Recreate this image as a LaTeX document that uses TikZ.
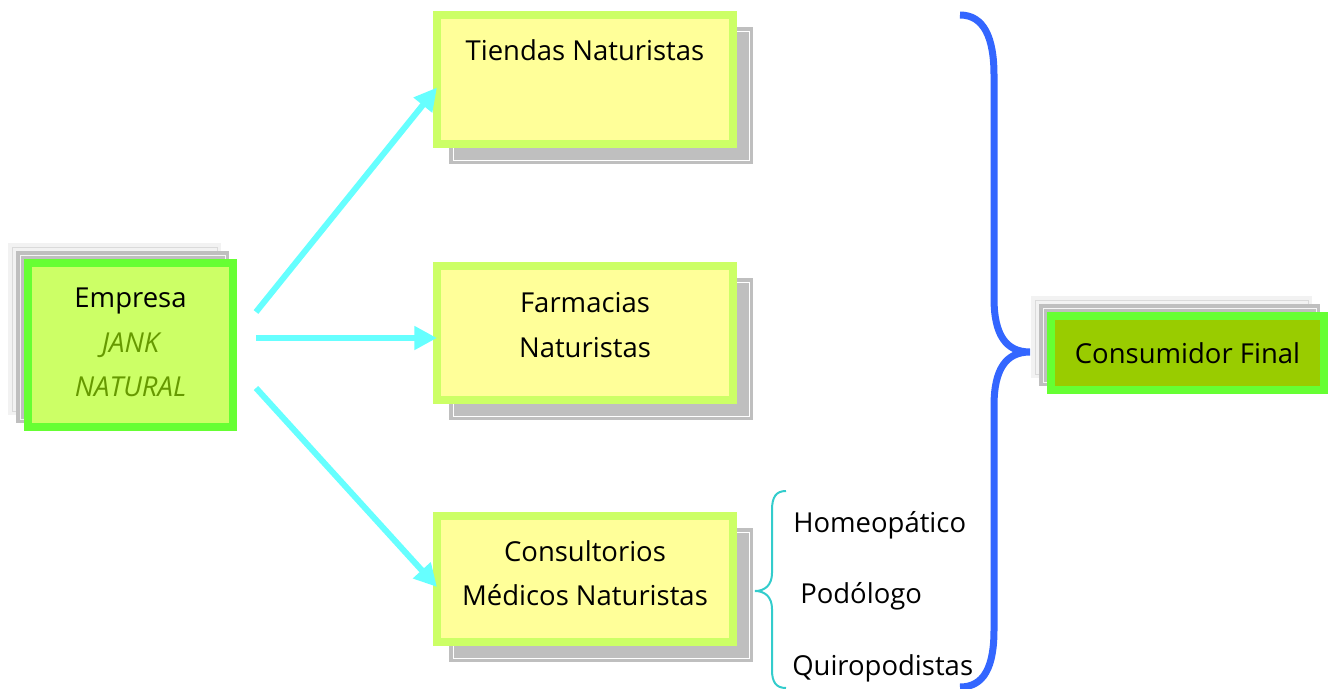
\documentclass[tikz,border=0pt]{standalone}
\usepackage{fontspec}
\setmainfont{Open Sans}
\usetikzlibrary{shadows,arrows.meta}
\definecolor{vertclair}{HTML}{CCFF66}
\definecolor{vertvif}{HTML}{66FF33}
\definecolor{vertfonce}{HTML}{99CC00}
\definecolor{olive}{HTML}{669900}
\definecolor{jaune}{HTML}{FFFF99}
\definecolor{ombre}{HTML}{BFBFBF}
\definecolor{ombreclaire}{HTML}{F2F2F2}
\definecolor{cyan}{HTML}{66FFFF}
\definecolor{bleu}{HTML}{3366FF}
\definecolor{turquoise}{HTML}{33CCCC}
\begin{document}
\begin{tikzpicture}[x=0.75pt,y=-0.75pt,font=\fontsize{20.6}{33.5}\selectfont,
  boite/.style={draw=vertclair, line width=6pt, fill=jaune, minimum width=222pt, align=center,
    general shadow={shadow xshift=12pt, shadow yshift=-12pt, fill=ombre, draw=ombre,
      line width=2.6pt, double=white, double distance=0.75pt}},
  cadre/.style={draw=vertvif, line width=6pt, align=center,
    general shadow={shadow xshift=-12pt, shadow yshift=12pt, fill=ombreclaire, draw=ombreclaire,
      line width=2.6pt, double=ombreclaire!90!black, double distance=0.75pt},
    general shadow={shadow xshift=-6pt, shadow yshift=6pt, fill=ombre, draw=ombre,
      line width=2.6pt, double=white!85!ombre, double distance=0.75pt}},
  fleche/.style={cyan, line width=4.5pt, -{Triangle[length=17pt,width=17pt]}},
  liste/.style={anchor=base west, inner sep=0pt}]
\useasboundingbox (0,0) rectangle (1329,689);
% boites
\node[cadre, fill=vertclair, minimum width=153.75pt, minimum height=123pt, text depth=4pt] (e)
  at (130.5,345) {Empresa\\\textcolor{olive}{\itshape JANK}\\\textcolor{olive}{\itshape NATURAL}};
\node[boite, minimum height=96.75pt,
  label={[anchor=base,yshift=-36.75pt]north:Tiendas Naturistas}] (t0) at (585,79.5) {};
\node[boite, minimum height=100.5pt, text depth=12pt] (t1) at (585,333) {Farmacias\\Naturistas};
\node[boite, minimum height=94.5pt, text depth=9pt] (t2) at (585,579) {Consultorios\\Médicos Naturistas};
\node[cadre, fill=vertfonce, minimum width=204.75pt, minimum height=55.5pt] (c) at (1187.5,353)
  {Consumidor Final};
% fleches
\foreach \i/\a/\b in {0/24.75/-6, 1/5.25/-3.75, 2/-32.25/-6}
  \draw[fleche] ([shift={(14.25pt,\a pt)}]e.east) -- ([shift={(3pt,\b pt)}]t\i.west);
% specialistes
\node[liste] (h) at (793,532) {Homeopático};
\node[liste] (p) at (800,603) {Podólogo};
\node[liste] (q) at (792,675) {Quiropodistas};
\draw[turquoise, line width=1.5pt] (786,491) .. controls (776,491) and (772,497) .. (772,510)
  -- (772,573) .. controls (772,585) and (765,591) .. (755,591)
  .. controls (765,591) and (772,597) .. (772,609) -- (772,670)
  .. controls (772,682) and (776,688) .. (786,688);
% accolade
\draw[bleu, line width=5.25pt] (960,15) .. controls (984,15) and (994,38) .. (994,75)
  -- (994,298) .. controls (994,335) and (1006,352) .. (1030,352)
  .. controls (1006,352) and (994,369) .. (994,406) -- (994,630)
  .. controls (994,667) and (984,687) .. (960,687);
\end{tikzpicture}
\end{document}
